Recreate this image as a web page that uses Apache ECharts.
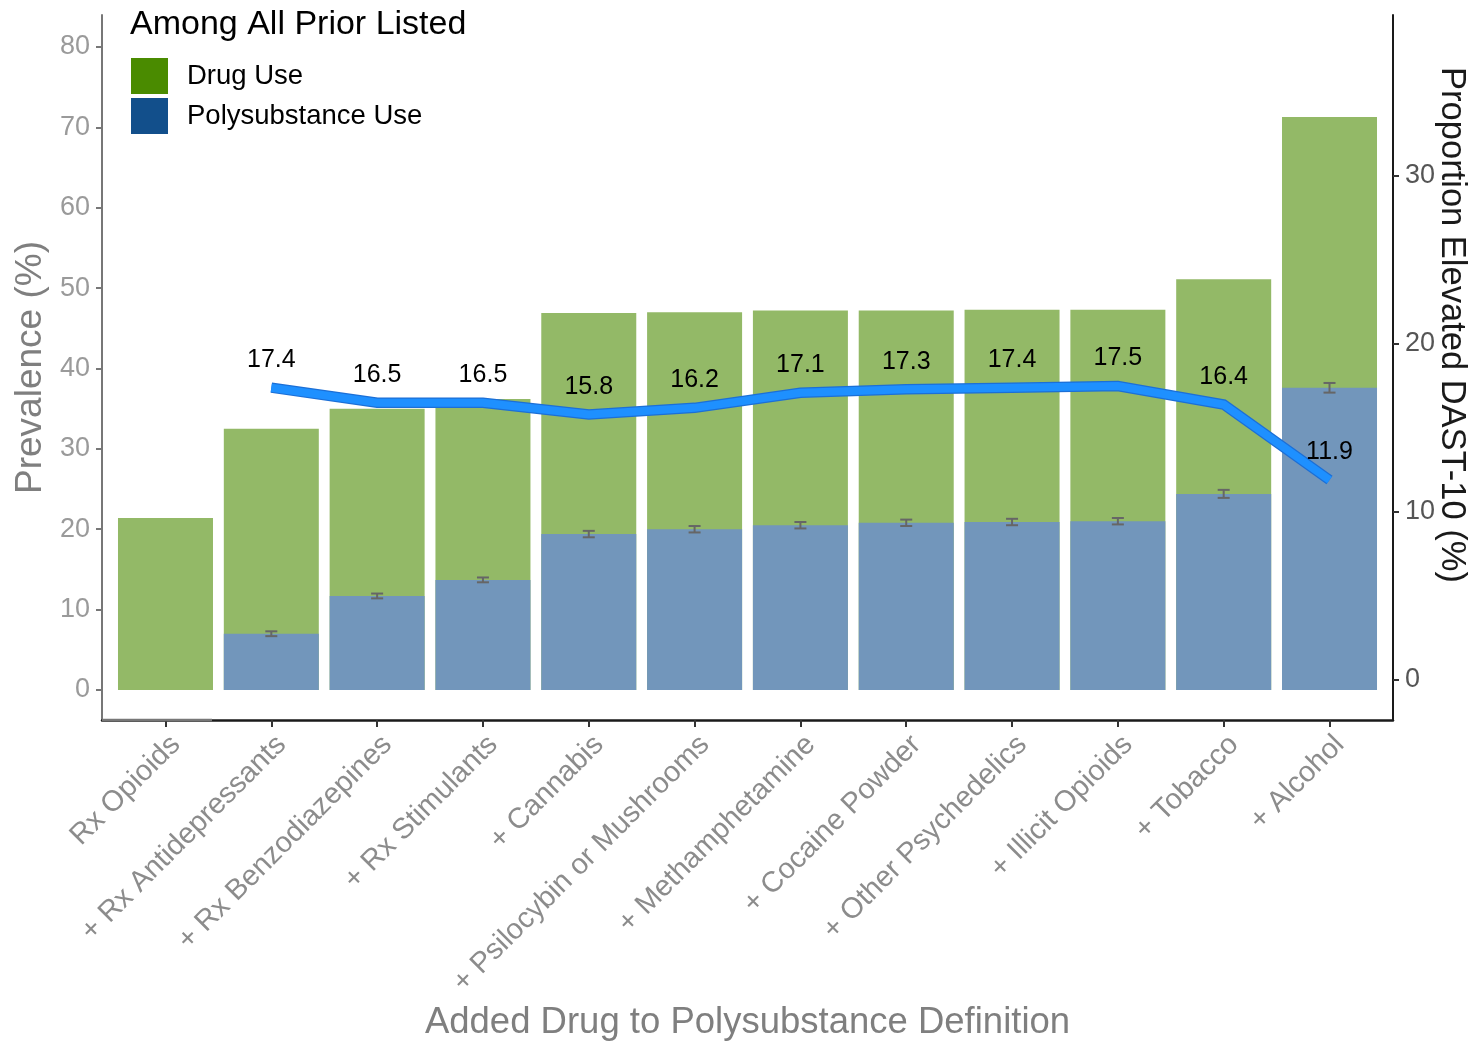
<!DOCTYPE html>
<html>
<head>
<meta charset="utf-8">
<title>Polysubstance Use Prevalence</title>
<script src="https://cdn.jsdelivr.net/npm/echarts@6/dist/echarts.min.js"></script>
<style>
  html, body { margin: 0; padding: 0; background: #ffffff; }
  #chart { width: 1468px; height: 1041px; }
</style>
</head>
<body>
<div id="chart"></div>
<script>
// Cumulative drug classes added to the polysubstance definition
const categories = [
  'Rx Opioids', '+ Rx Antidepressants', '+ Rx Benzodiazepines', '+ Rx Stimulants',
  '+ Cannabis', '+ Psilocybin or Mushrooms', '+ Methamphetamine', '+ Cocaine Powder',
  '+ Other Psychedelics', '+ Illicit Opioids', '+ Tobacco', '+ Alcohol'
];
// Prevalence (%) of any drug use among all prior listed
const drugUse = [21.4, 32.5, 35.0, 36.2, 46.9, 47.0, 47.2, 47.2, 47.3, 47.3, 51.1, 71.3];
// Prevalence (%) of polysubstance use (none for the first class alone)
const polyUse = [null, 7.0, 11.7, 13.7, 19.4, 20.0, 20.5, 20.8, 20.9, 21.0, 24.4, 37.6];
// 95% CI bounds for polysubstance use
const polyLow  = [null, 6.7, 11.4, 13.4, 19.0, 19.6, 20.1, 20.4, 20.5, 20.6, 23.9, 37.0];
const polyHigh = [null, 7.3, 12.0, 14.0, 19.8, 20.4, 20.9, 21.2, 21.3, 21.4, 24.9, 38.2];
// Proportion with elevated DAST-10 (%)
const dast = [null, 17.4, 16.5, 16.5, 15.8, 16.2, 17.1, 17.3, 17.4, 17.5, 16.4, 11.9];
// Axis tick values
const leftTicks = [0, 10, 20, 30, 40, 50, 60, 70, 80];
const rightTicks = [0, 10, 20, 30];

const FONT = 'Liberation Sans, Arial, Helvetica, sans-serif';
const idx = categories.map((_, i) => i);

const chart = echarts.init(document.getElementById('chart'), null, { renderer: 'canvas' });

const option = {
  backgroundColor: '#ffffff',
  animation: false,
  textStyle: { fontFamily: FONT },
  title: {
    text: 'Among All Prior Listed',
    left: 130, top: 8, padding: 0,
    textStyle: { fontFamily: FONT, fontSize: 34, fontWeight: 'normal', color: '#000000' }
  },
  legend: {
    left: 131, top: 58, padding: 0,
    orient: 'vertical',
    itemWidth: 37, itemHeight: 36, itemGap: 4,
    icon: 'rect',
    textStyle: { fontFamily: FONT, fontSize: 27.5, color: '#000000', padding: [0, 0, 0, 14] },
    data: [
      { name: 'Drug Use', itemStyle: { color: '#4a8b00' } },
      { name: 'Polysubstance Use', itemStyle: { color: '#124f8b' } }
    ]
  },
  graphic: [
    // Secondary axis title, reading top to bottom beside the right axis
    {
      type: 'text',
      x: 1452, y: 325,
      rotation: -Math.PI / 2,
      style: {
        text: 'Proportion Elevated DAST-10 (%)',
        fontFamily: FONT, fontSize: 34.5, fill: '#1a1a1a',
        align: 'center', verticalAlign: 'middle'
      }
    },
    // Lighter start of the bottom axis line under the first bar
    {
      type: 'line',
      z: 100,
      shape: { x1: 102, y1: 720, x2: 212, y2: 720 },
      style: { stroke: '#777777', lineWidth: 2.5 }
    }
  ],
  grid: { left: 102, right: 75, top: 15, bottom: 321, containLabel: false, outerBoundsMode: 'none' },
  xAxis: {
    type: 'value',
    min: -0.6, max: 11.6,
    name: 'Added Drug to Polysubstance Definition',
    nameLocation: 'middle',
    nameGap: 284,
    nameTextStyle: { fontFamily: FONT, fontSize: 36.5, color: '#7f7f7f' },
    axisLine: { show: true, onZero: false, lineStyle: { color: '#1a1a1a', width: 2.5 } },
    axisTick: { show: true, length: 7, customValues: idx, lineStyle: { color: '#333333', width: 2 } },
    axisLabel: {
      customValues: idx,
      rotate: 45, margin: 10,
      verticalAlign: 'top',
      fontFamily: FONT, fontSize: 29, color: '#8c8c8c',
      formatter: v => categories[Math.round(v)]
    },
    splitLine: { show: false }
  },
  yAxis: [
    {
      type: 'value',
      min: -3.733, max: 83.98,
      position: 'left',
      name: 'Prevalence (%)',
      nameLocation: 'middle',
      nameGap: 52,
      nameTextStyle: { fontFamily: FONT, fontSize: 37, color: '#7f7f7f' },
      axisLine: { show: true, onZero: false, lineStyle: { color: '#777777', width: 2 } },
      axisTick: { show: true, length: 6, customValues: leftTicks, lineStyle: { color: '#777777', width: 2 } },
      axisLabel: { customValues: leftTicks, margin: 12, fontFamily: FONT, fontSize: 27, color: '#9a9a9a' },
      splitLine: { show: false }
    },
    {
      type: 'value',
      min: -2.381, max: 39.583,
      position: 'right',
      axisLine: { show: true, onZero: false, lineStyle: { color: '#1a1a1a', width: 2 } },
      axisTick: { show: true, length: 6, customValues: rightTicks, lineStyle: { color: '#333333', width: 2 } },
      axisLabel: { customValues: rightTicks, margin: 12, fontFamily: FONT, fontSize: 27, color: '#555555' },
      splitLine: { show: false }
    }
  ],
  series: [
    {
      name: 'Drug Use',
      type: 'bar',
      yAxisIndex: 0,
      barWidth: 95,
      barGap: '-100%',
      itemStyle: { color: '#93b967' },
      data: drugUse.map((v, i) => [i, v]),
      z: 2
    },
    {
      name: 'Polysubstance Use',
      type: 'bar',
      yAxisIndex: 0,
      barWidth: 95,
      barGap: '-100%',
      itemStyle: { color: '#7296bb' },
      data: polyUse.map((v, i) => [i, v === null ? '-' : v]),
      z: 3
    },
    {
      name: 'CI',
      type: 'custom',
      yAxisIndex: 0,
      z: 4,
      silent: true,
      data: polyLow.map((v, i) => [i, v, polyHigh[i]]).filter(d => d[1] !== null),
      renderItem: function (params, api) {
        const x = api.value(0);
        const lo = api.coord([x, api.value(1)]);
        const hi = api.coord([x, api.value(2)]);
        const half = 6;
        const style = { stroke: '#666666', lineWidth: 2 };
        return {
          type: 'group',
          children: [
            { type: 'line', shape: { x1: lo[0], y1: lo[1], x2: hi[0], y2: hi[1] }, style },
            { type: 'line', shape: { x1: lo[0] - half, y1: lo[1], x2: lo[0] + half, y2: lo[1] }, style },
            { type: 'line', shape: { x1: hi[0] - half, y1: hi[1], x2: hi[0] + half, y2: hi[1] }, style }
          ]
        };
      }
    },
    {
      name: 'DAST edge',
      type: 'line',
      yAxisIndex: 1,
      z: 5,
      silent: true,
      symbol: 'none',
      lineStyle: { color: '#1c6fd6', width: 10.5, cap: 'butt', join: 'miter' },
      data: dast.map((v, i) => [i, v]).filter(d => d[1] !== null)
    },
    {
      name: 'DAST-10',
      type: 'line',
      yAxisIndex: 1,
      z: 6,
      symbol: 'circle',
      symbolSize: 0.1,
      showSymbol: true,
      itemStyle: { color: '#1e90ff' },
      lineStyle: { color: '#1e90ff', width: 8, cap: 'butt', join: 'miter' },
      label: {
        show: true, position: 'top', distance: 15,
        fontFamily: FONT, fontSize: 25, color: '#000000',
        formatter: p => p.value[1].toFixed(1)
      },
      data: dast.map((v, i) => [i, v]).filter(d => d[1] !== null)
    }
  ]
};

chart.setOption(option);
</script>
</body>
</html>
